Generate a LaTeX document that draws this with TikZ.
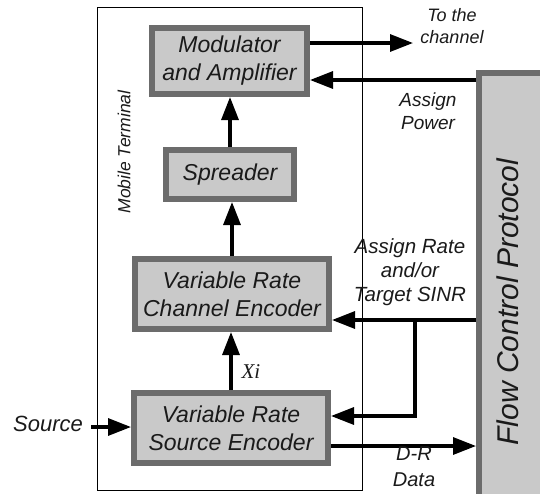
\documentclass[tikz,border=0pt]{standalone}
\usepackage{fontspec}
\setmainfont{Liberation Sans}
\newfontfamily\xfont{Liberation Serif}
\usetikzlibrary{arrows.meta,calc}
\definecolor{boxfill}{HTML}{C9C9C9}
\definecolor{boxedge}{HTML}{6C6C6C}
\definecolor{ink}{HTML}{1A1A1A}
\begin{document}
\begin{tikzpicture}[x=1pt,y=-1pt,
  block/.style={draw=boxedge, fill=boxfill, line width=6pt, align=center,
    text=ink, inner sep=0pt, font=\fontsize{23}{28}\selectfont\itshape},
  lbl/.style={align=center, text=ink, inner sep=0pt,
    font=\fontsize{19}{23}\selectfont\itshape},
  arr/.style={line width=3.2pt, -{Triangle[length=23pt,width=17pt]}},
  wire/.style={line width=3.2pt}]
\useasboundingbox (0,0) rectangle (540,493);

% mobile terminal enclosure
\node[draw, line width=1pt, minimum width=265pt, minimum height=483pt,
  inner sep=0pt] (term) at (230,248.5) {};
\node[rotate=90, text=ink, font=\fontsize{17.5}{20}\selectfont\itshape]
  (termlbl) at (124,152) {Mobile Terminal};

% processing blocks
\node[block, minimum width=155pt, minimum height=66pt] (mod) at (229.5,61)
  {Modulator\\and Amplifier};
\node[block, minimum width=128pt, minimum height=49pt] (spr) at (230,174.5)
  {Spreader};
\node[block, minimum width=194pt, minimum height=70pt] (chan) at (232,294)
  {Variable Rate\\Channel Encoder};
\node[block, minimum width=194pt, minimum height=70pt] (src) at (231,428)
  {Variable Rate\\Source Encoder};

% flow control protocol bar, running off the page edge
\begin{scope}
\clip (0,0) rectangle (540,493);
\node[block, minimum width=80pt, minimum height=440pt,
  anchor=north west] (flow) at (476,70) {};
\node[rotate=90, text=ink, font=\fontsize{30}{34}\selectfont\itshape]
  (flowlbl) at (508,302) {Flow Control Protocol};
\end{scope}

% signal levels
\coordinate (txout) at (413,43);
\coordinate (pwy) at (0,80);
\coordinate (ratey) at (0,320);
\coordinate (branch) at (415,320);
\coordinate (srcy) at (0,416);
\coordinate (dry) at (0,446);
\coordinate (insy) at (0,427);

% main chain
\draw[arr] (spr.north) -- (spr.north |- mod.south);
\draw[arr] (chan.north) -- (chan.north |- spr.south);
\draw[arr] (src.north) -- (src.north |- chan.south);
\node[anchor=west, text=ink, font=\fontsize{21}{24}\selectfont\xfont\itshape]
  (xi) at (238,372) {Xi};

% output to channel and power control
\draw[arr] (mod.east |- txout) -- (txout);
\draw[arr] (flow.west |- pwy) -- (mod.east |- pwy);
\node[lbl, font=\fontsize{18}{22}\selectfont\itshape] (chanlbl) at (452,26)
  {To the\\channel};
\node[lbl] (pwlbl) at (428,111) {Assign\\Power};

% rate control
\draw[arr] (flow.west |- ratey) -- (chan.east |- ratey);
\draw[wire] (branch) -- (branch |- srcy);
\draw[arr] ([xshift=1.6pt]branch |- srcy) -- (src.east |- srcy);
\node[lbl, font=\fontsize{20.5}{24}\selectfont\itshape] (ratelbl) at (410,272)
  {Assign Rate\\and/or\\Target SINR};

% source input and distortion-rate data
\node[lbl, font=\fontsize{22}{26}\selectfont\itshape] (source) at (48,424)
  {Source};
\coordinate (srcstart) at (91,427);
\draw[arr] (srcstart) -- (src.west |- insy);
\draw[arr] (src.east |- dry) -- (flow.west |- dry);
\node[lbl, font=\fontsize{20}{26}\selectfont\itshape] (drlbl) at (414,467)
  {D-R\\Data};
\end{tikzpicture}
\end{document}
